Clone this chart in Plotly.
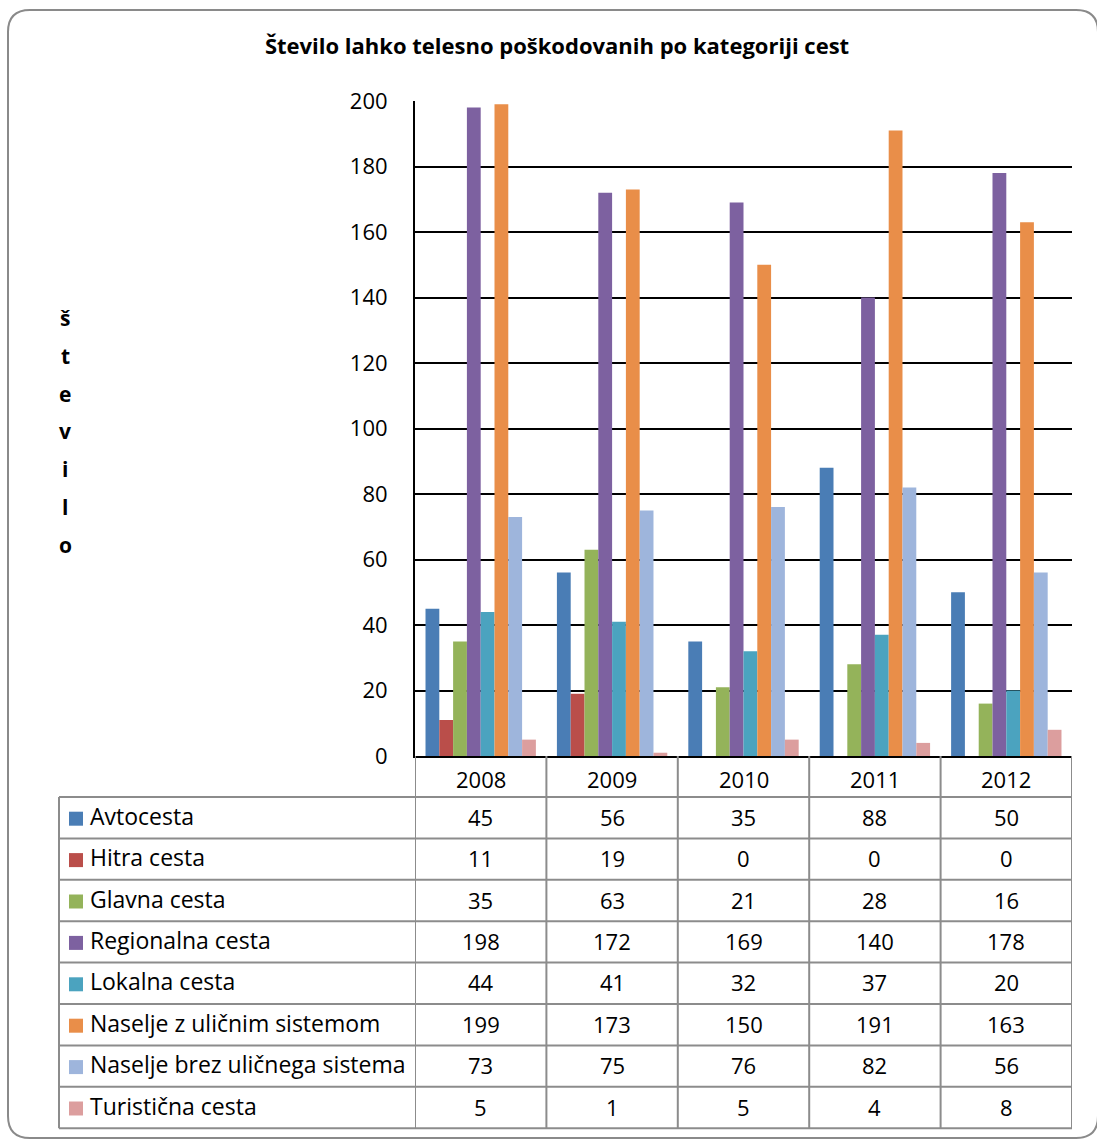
import plotly.graph_objects as go

# Road categories and injured-person counts per year
years = ["2008", "2009", "2010", "2011", "2012"]
categories = [
    "Avtocesta",
    "Hitra cesta",
    "Glavna cesta",
    "Regionalna cesta",
    "Lokalna cesta",
    "Naselje z uličnim sistemom",
    "Naselje brez uličnega sistema",
    "Turistična cesta",
]
avtocesta = [45, 56, 35, 88, 50]
hitra_cesta = [11, 19, 0, 0, 0]
glavna_cesta = [35, 63, 21, 28, 16]
regionalna_cesta = [198, 172, 169, 140, 178]
lokalna_cesta = [44, 41, 32, 37, 20]
naselje_z_sistemom = [199, 173, 150, 191, 163]
naselje_brez_sistema = [73, 75, 76, 82, 56]
turisticna_cesta = [5, 1, 5, 4, 8]
series_values = [
    avtocesta, hitra_cesta, glavna_cesta, regionalna_cesta,
    lokalna_cesta, naselje_z_sistemom, naselje_brez_sistema, turisticna_cesta,
]
y_ticks = [0, 20, 40, 60, 80, 100, 120, 140, 160, 180, 200]

colors = ["#4A7DB5", "#BA4E4A", "#94B35A", "#7D61A0",
          "#4BA3BF", "#E98E49", "#9EB5DC", "#DC9E9E"]

W, H = 1097, 1140
FONT = "Open Sans"


def px(x):
    return x / W


def py(y):
    return 1 - y / H


# plot area in pixels
PL, PR, PT, PB = 415, 1072, 101, 756
# data table geometry
T_LEFT = 59
HEAD_BOTTOM = 797
ROW_H = 41.4

fig = go.Figure()
for name, vals, col in zip(categories, series_values, colors):
    fig.add_trace(go.Bar(
        x=years, y=vals, name=name,
        marker=dict(color=col, line=dict(width=0)),
        showlegend=False,
    ))

shapes = []
annotations = []

# outer rounded frame
r = 22
x0, y0, x1, y1 = px(8), py(10), px(1098), py(1138)
rx, ry = r / W, r / H
path = (f"M {x0+rx},{y0} L {x1-rx},{y0} Q {x1},{y0} {x1},{y0-ry} "
        f"L {x1},{y1+ry} Q {x1},{y1} {x1-rx},{y1} "
        f"L {x0+rx},{y1} Q {x0},{y1} {x0},{y1+ry} "
        f"L {x0},{y0-ry} Q {x0},{y0} {x0+rx},{y0} Z")
shapes.append(dict(type="path", path=path, xref="paper", yref="paper",
                   line=dict(color="#8A8A8A", width=2), layer="below"))

TABLE_LINE = dict(color="#8C8C8C", width=2)
n_rows = len(categories)
table_bottom = HEAD_BOTTOM + ROW_H * n_rows

# vertical column lines of the data table (aligned with category bands)
for k in range(len(years) + 1):
    shapes.append(dict(type="line", xref="x", yref="paper",
                       x0=k - 0.5, x1=k - 0.5, y0=py(PB), y1=py(table_bottom),
                       line=TABLE_LINE))
# left border of the label column
shapes.append(dict(type="line", xref="paper", yref="paper",
                   x0=px(T_LEFT), x1=px(T_LEFT), y0=py(HEAD_BOTTOM), y1=py(table_bottom),
                   line=TABLE_LINE))
# horizontal row lines
for i in range(n_rows + 1):
    yy = py(HEAD_BOTTOM + ROW_H * i)
    shapes.append(dict(type="line", xref="paper", yref="paper",
                       x0=px(T_LEFT), x1=px(PR), y0=yy, y1=yy, line=TABLE_LINE))

# header row: years (positioned by category index on the x axis)
for j, yr in enumerate(years):
    annotations.append(dict(x=j, xref="x", y=py((PB + HEAD_BOTTOM) / 2 + 2), yref="paper",
                            text=yr, showarrow=False, xanchor="center", yanchor="middle",
                            font=dict(family=FONT, size=22, color="#000000")))

# series rows: colour key, name, values
for i, (name, vals, col) in enumerate(zip(categories, series_values, colors)):
    yc = HEAD_BOTTOM + ROW_H * (i + 0.5)
    shapes.append(dict(type="rect", xref="paper", yref="paper",
                       x0=px(69), x1=px(83), y0=py(yc - 6), y1=py(yc + 8),
                       fillcolor=col, line=dict(width=0)))
    annotations.append(dict(x=px(88), xref="paper", y=py(yc - 2), yref="paper",
                            text=name, showarrow=False, xanchor="left", yanchor="middle",
                            font=dict(family=FONT, size=23, color="#000000")))
    for j, v in enumerate(vals):
        annotations.append(dict(x=j, xref="x", y=py(yc - 1), yref="paper",
                                text=str(v), showarrow=False, xanchor="center",
                                yanchor="middle",
                                font=dict(family=FONT, size=22, color="#000000")))

# vertical axis title, one letter per line
for j, ch in enumerate("število"):
    annotations.append(dict(x=px(65), xref="paper", y=py(318 + 37.8 * j), yref="paper",
                            text=f"<b>{ch}</b>", showarrow=False,
                            xanchor="center", yanchor="middle",
                            font=dict(family=FONT, size=21, color="#000000")))

fig.update_layout(
    width=W, height=H,
    margin=dict(l=0, r=0, t=0, b=0, autoexpand=False),
    paper_bgcolor="white", plot_bgcolor="white",
    barmode="group", bargap=0.16, bargroupgap=0,
    title=dict(text="<b>Število lahko telesno poškodovanih po kategoriji cest</b>",
               x=px(557), xanchor="center", y=py(46), yanchor="middle",
               font=dict(family=FONT, size=22, color="#000000")),
    xaxis=dict(domain=[px(PL), px(PR)], type="category", range=[-0.5, 4.5],
               showticklabels=False, showgrid=False, zeroline=False, automargin=False,
               showline=True, linecolor="#000000", linewidth=2, ticks=""),
    yaxis=dict(domain=[py(PB), py(PT)], range=[0, 200], tickvals=y_ticks,
               showgrid=True, gridcolor="#000000", gridwidth=2, automargin=False,
               zeroline=False, showline=True, linecolor="#000000", linewidth=2,
               ticks="", ticklabelstandoff=21,
               tickfont=dict(family=FONT, size=22, color="#000000")),
    shapes=shapes,
    annotations=annotations,
    font=dict(family=FONT),
)

fig.write_html("out.html")
